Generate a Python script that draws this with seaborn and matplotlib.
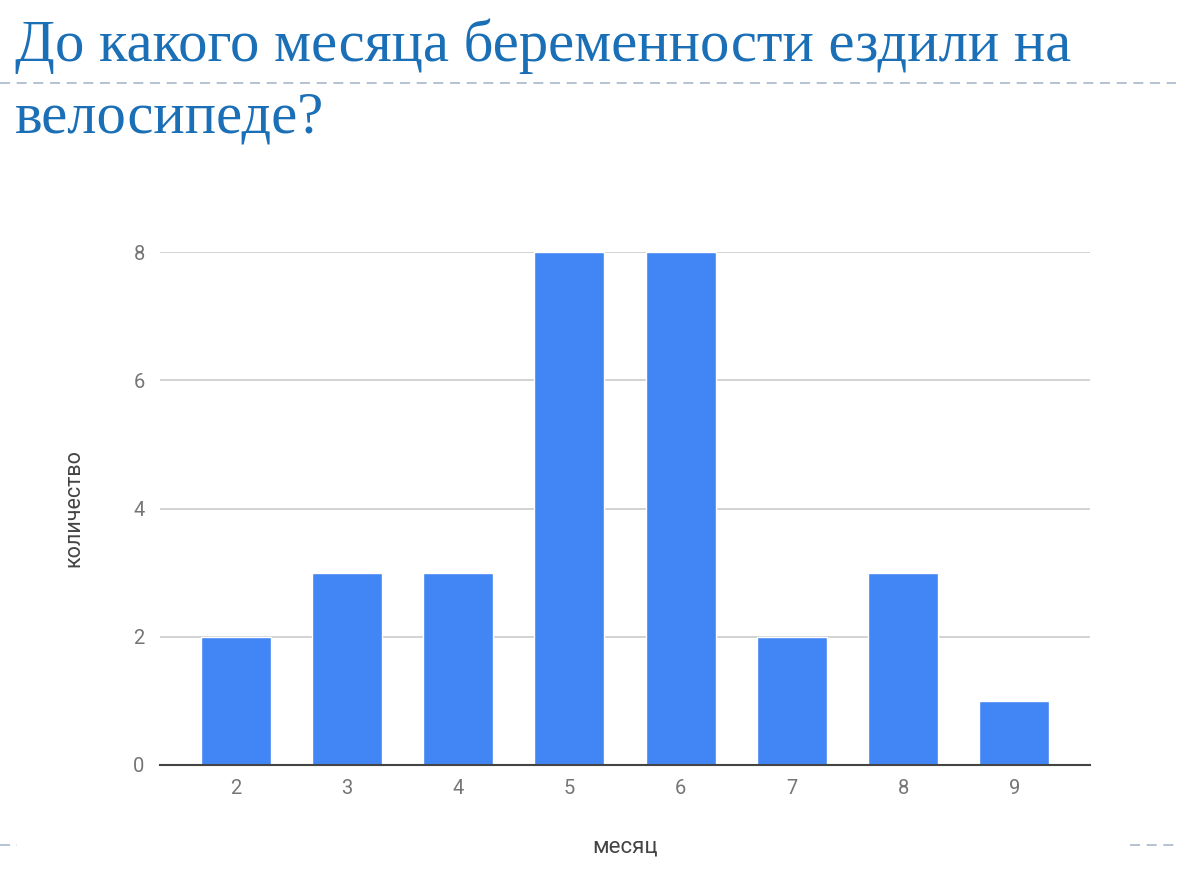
import numpy as np
import pandas as pd
import seaborn as sns
import matplotlib.pyplot as plt
from matplotlib.lines import Line2D

# Data ########################################################################

months = ['2', '3', '4', '5', '6', '7', '8', '9']
counts = [2, 3, 3, 8, 8, 2, 3, 1]

title_line1 = 'До какого месяца беременности ездили на'
title_line2 = 'велосипеде?'
x_label = 'месяц'
y_label = 'количество'

df = pd.DataFrame({'month': months, 'count': counts})

# Figure ######################################################################

sns.set_style('white')
plt.rcParams['font.family'] = ['Roboto', 'DejaVu Sans']

fig = plt.figure(figsize=(12, 8.69), dpi=100)
ax = fig.add_axes([160/1200, 1 - 765/869, 930/1200, (765 - 252)/869])

sns.barplot(data=df, x='month', y='count', color='#4285F4', saturation=1,
            width=0.63, ax=ax, zorder=3)

ax.set_xlim(-0.68, 7.68)
ax.set_ylim(0, 8)
ax.set_yticks([0, 2, 4, 6, 8])
ax.yaxis.grid(True, color='#cccccc', linewidth=1.2, zorder=0)
ax.xaxis.grid(False)
for s in ['top', 'right', 'left']:
    ax.spines[s].set_visible(False)
ax.spines['bottom'].set_color('#444444')
ax.spines['bottom'].set_linewidth(1.5)
ax.spines['bottom'].set_zorder(4)
ax.tick_params(axis='both', length=0, labelsize=14.5, labelcolor='#757575')
ax.tick_params(axis='y', pad=11)
ax.tick_params(axis='x', pad=10)

ax.set_xlabel(x_label, fontsize=16, color='#444444', labelpad=28)
ax.set_ylabel(y_label, fontsize=15.5, color='#444444', labelpad=35)

# Title and slide decorations ################################################

title_color = '#1a6fb6'
fig.text(15/1200, 1 - 61/869, title_line1, fontsize=42.2, color=title_color,
         family='Liberation Serif', va='baseline', ha='left')
fig.text(15/1200, 1 - 132/869, title_line2, fontsize=42.2, color=title_color,
         family='Liberation Serif', va='baseline', ha='left')

dash_color = '#a9b8c8'
fig.add_artist(Line2D([0, 1176/1200], [1 - 83/869, 1 - 83/869],
                      color=dash_color, linewidth=1.2, linestyle=(0, (6, 4))))
fig.add_artist(Line2D([0, 17/1200], [1 - 845/869, 1 - 845/869],
                      color=dash_color, linewidth=1.2, linestyle=(0, (6, 4))))
fig.add_artist(Line2D([1130/1200, 1176/1200], [1 - 845/869, 1 - 845/869],
                      color=dash_color, linewidth=1.2, linestyle=(0, (6, 4))))

fig.savefig('out.png', dpi=100)
